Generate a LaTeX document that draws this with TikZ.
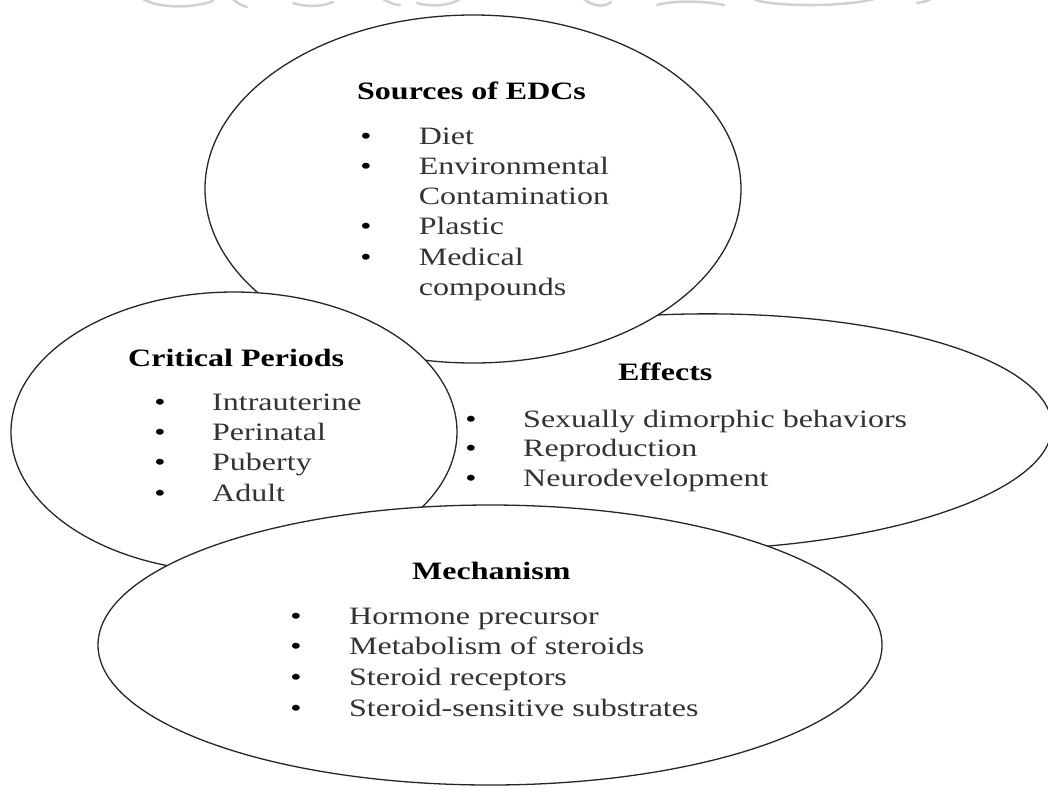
\documentclass[tikz,border=0pt]{standalone}
\usepackage{fontspec}
\setmainfont{Liberation Serif}[FakeStretch=1.28]
\usetikzlibrary{shapes.geometric}
\tikzset{
  blob/.style={ellipse, draw=black!85, line width=1.3pt, fill=white, inner sep=0pt, outer sep=0pt},
  ttl/.style={anchor=base west, inner sep=0pt, text=black, font=\fontsize{25}{30}\selectfont\bfseries},
  txt/.style={anchor=base west, inner sep=0pt, text=black!80, font=\fontsize{25}{30}\selectfont},
  bul/.style={anchor=base, inner sep=0pt, text=black, font=\fontsize{25}{30}\selectfont},
  wm/.style={draw=black!18, line width=2.5pt, line cap=round}
}
\begin{document}
\begin{tikzpicture}[x=1pt, y=-1pt]
\fill[white] (0,0) rectangle (1048,788);
\useasboundingbox (0,0) rectangle (1048,788);
% faint watermark remnants at the top edge
\draw[wm] (143,-1) .. controls (158,8) and (190,9) .. (213,1);
\draw[wm] (233,-1) .. controls (238,4) and (243,6) .. (247,7);
\draw[wm] (293,3) .. controls (305,7) and (322,7) .. (333,2);
\draw[wm] (383,-1) .. controls (390,3) and (395,5) .. (400,5);
\draw[wm] (417,3) .. controls (430,7) and (450,6) .. (460,-1);
\draw[wm] (584,-1) .. controls (592,6) and (604,8) .. (611,2);
\draw[wm] (657,5) .. controls (670,1) and (700,0) .. (724,5);
\draw[wm] (754,-1) .. controls (765,6) and (840,8) .. (874,-1);
\draw[wm] (917,3) .. controls (923,2) and (928,1) .. (931,-1);
% the four ellipses, bottom to top
\node[blob, minimum width=724pt, minimum height=236pt, rotate=1] (effects) at (690,432) {};
\node[blob, minimum width=536pt, minimum height=348pt] (sources) at (473,189) {};
\node[blob, minimum width=446pt, minimum height=280pt] (critical) at (234,432) {};
\node[blob, minimum width=784pt, minimum height=280pt] (mechanism) at (490,645) {};
% Sources of EDCs
\node[ttl] (sT) at (357,99) {Sources of EDCs};
\node[bul] (sb1) at (366,144) {•};
\node[txt] (s1) at (418.6,144) {Diet};
\node[bul] (sb2) at (366,174) {•};
\node[txt] (s2) at (418.6,174) {Environmental};
\node[txt] (s2b) at (418.6,204) {Contamination};
\node[bul] (sb3) at (366,234) {•};
\node[txt] (s3) at (418.6,234) {Plastic};
\node[bul] (sb4) at (366,265) {•};
\node[txt] (s4) at (418.6,265) {Medical};
\node[txt] (s4b) at (418.6,295) {compounds};
% Critical Periods
\node[ttl] (cT) at (128,366) {Critical Periods};
\node[bul] (cb1) at (160,410) {•};
\node[txt] (c1) at (212,410) {Intrauterine};
\node[bul] (cb2) at (160,440.7) {•};
\node[txt] (c2) at (212,440.7) {Perinatal};
\node[bul] (cb3) at (160,470.7) {•};
\node[txt] (c3) at (212,470.7) {Puberty};
\node[bul] (cb4) at (160,501.7) {•};
\node[txt] (c4) at (212,501.7) {Adult};
% Effects
\node[ttl] (eT) at (618,380.7) {Effects};
\node[bul] (eb1) at (471,427) {•};
\node[txt] (e1) at (523,427) {Sexually dimorphic behaviors};
\node[bul] (eb2) at (471,456.7) {•};
\node[txt] (e2) at (523,456.7) {Reproduction};
\node[bul] (eb3) at (471,486.7) {•};
\node[txt] (e3) at (523,486.7) {Neurodevelopment};
% Mechanism
\node[ttl] (mT) at (412,579) {Mechanism};
\node[bul] (mb1) at (296,624) {•};
\node[txt] (m1) at (349,624) {Hormone precursor};
\node[bul] (mb2) at (296,654) {•};
\node[txt] (m2) at (349,654) {Metabolism of steroids};
\node[bul] (mb3) at (296,685) {•};
\node[txt] (m3) at (349,685) {Steroid receptors};
\node[bul] (mb4) at (296,716) {•};
\node[txt] (m4) at (349,716) {Steroid-sensitive substrates};
\end{tikzpicture}
\end{document}
